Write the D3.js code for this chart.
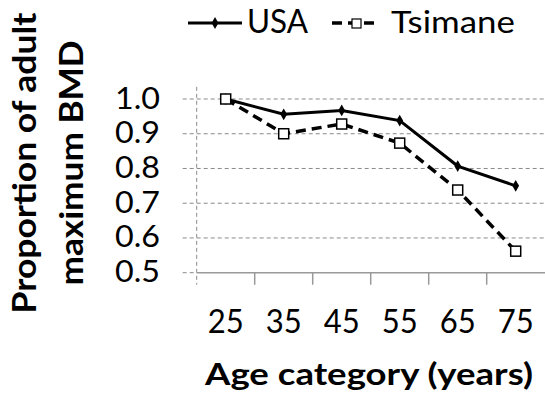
<!DOCTYPE html>
<html lang="en">
<head>
    <meta charset="UTF-8">
    <title>BMD by age</title>
    <script src="https://d3js.org/d3.v7.min.js"></script>
    <style>
        body { margin: 0; background: #fff; }
        text { font-family: Lato, "Open Sans", sans-serif; fill: #000; }
    </style>
</head>
<body>
    <div id="chart"></div>

    <script>
        // data
        const ages = ["25", "35", "45", "55", "65", "75"];
        const usa = [1.0, 0.956, 0.967, 0.938, 0.807, 0.75];
        const tsimane = [1.0, 0.9, 0.928, 0.873, 0.738, 0.562];
        const yTicks = [0.5, 0.6, 0.7, 0.8, 0.9, 1.0];

        const width = 545;
        const height = 401;
        const margin = { top: 99, right: 0.3, bottom: 128.3, left: 196.7 };

        const svg = d3.select("#chart")
            .append("svg")
            .attr("width", width)
            .attr("height", height);

        const x = d3.scaleBand()
            .domain(ages)
            .range([margin.left, width - margin.right])
            .padding(0);

        const y = d3.scaleLinear()
            .domain([0.5, 1.0])
            .range([height - margin.bottom, margin.top]);

        const cx = d => x(d) + x.bandwidth() / 2;

        // horizontal gridlines (dashed), reaching left past the axis like ticks
        svg.append("g")
            .selectAll("line")
            .data(yTicks.filter(d => d > 0.5))
            .join("line")
            .attr("x1", margin.left - 14)
            .attr("x2", width)
            .attr("y1", d => y(d))
            .attr("y2", d => y(d))
            .attr("stroke", "#8a8a8a")
            .attr("stroke-width", 1)
            .attr("stroke-dasharray", "4,3");

        // y axis: dashed gray
        svg.append("line")
            .attr("x1", margin.left).attr("x2", margin.left)
            .attr("y1", y(1.035)).attr("y2", y(0.5) + 12)
            .attr("stroke", "#8a8a8a")
            .attr("stroke-width", 1)
            .attr("stroke-dasharray", "4,3");
        svg.append("line")
            .attr("x1", margin.left - 14).attr("x2", margin.left)
            .attr("y1", y(0.5)).attr("y2", y(0.5))
            .attr("stroke", "#8a8a8a")
            .attr("stroke-dasharray", "4,3");

        // y tick labels
        svg.append("g")
            .selectAll("text")
            .data(yTicks)
            .join("text")
            .attr("x", 160)
            .attr("y", d => y(d) + 9.5)
            .attr("text-anchor", "end")
            .attr("font-size", 31)
            .attr("textLength", 45)
            .attr("lengthAdjust", "spacingAndGlyphs")
            .text(d => d.toFixed(1));

        // x axis: solid line with ticks between categories
        const xAxis = svg.append("g")
            .attr("transform", `translate(0,${y(0.5)})`)
            .call(d3.axisBottom(x).tickSize(0).tickFormat(""));
        xAxis.select(".domain")
            .attr("d", `M${margin.left},0H${width}`)
            .attr("stroke", "#999")
            .attr("stroke-width", 1.5);
        xAxis.selectAll(".bound")
            .data(ages.slice(1))
            .join("line")
            .attr("class", "bound")
            .attr("x1", d => x(d)).attr("x2", d => x(d))
            .attr("y1", 0).attr("y2", 12)
            .attr("stroke", "#999")
            .attr("stroke-width", 1.5);

        // x tick labels
        svg.append("g")
            .selectAll("text")
            .data(ages)
            .join("text")
            .attr("x", d => cx(d))
            .attr("y", 332.5)
            .attr("text-anchor", "middle")
            .attr("font-size", 32)
            .attr("textLength", 36)
            .attr("lengthAdjust", "spacingAndGlyphs")
            .text(d => d);

        // lines
        const line = d3.line()
            .x((d, i) => cx(ages[i]))
            .y(d => y(d));

        svg.append("path")
            .datum(usa)
            .attr("fill", "none")
            .attr("stroke", "#000")
            .attr("stroke-width", 3)
            .attr("d", line);

        svg.append("path")
            .datum(tsimane)
            .attr("fill", "none")
            .attr("stroke", "#000")
            .attr("stroke-width", 3.5)
            .attr("stroke-dasharray", "10,6")
            .attr("d", line);

        const diamond = d3.symbol().type(d3.symbolDiamond).size(40);

        svg.append("g")
            .selectAll("path")
            .data(usa)
            .join("path")
            .attr("transform", (d, i) => `translate(${cx(ages[i])},${y(d)})`)
            .attr("d", diamond)
            .attr("fill", "#000");

        svg.append("g")
            .selectAll("rect")
            .data(tsimane)
            .join("rect")
            .attr("x", (d, i) => cx(ages[i]) - 5)
            .attr("y", d => y(d) - 5)
            .attr("width", 10)
            .attr("height", 10)
            .attr("fill", "#fff")
            .attr("stroke", "#000")
            .attr("stroke-width", 1.5);

        // legend
        const lg = svg.append("g");
        lg.append("line")
            .attr("x1", 188).attr("x2", 242).attr("y1", 23).attr("y2", 23)
            .attr("stroke", "#000").attr("stroke-width", 3);
        lg.append("path")
            .attr("transform", "translate(215,23)")
            .attr("d", diamond)
            .attr("fill", "#000");
        lg.append("text")
            .attr("x", 247).attr("y", 33)
            .attr("font-size", 32)
            .attr("textLength", 61)
            .attr("lengthAdjust", "spacingAndGlyphs")
            .text("USA");
        lg.append("line")
            .attr("x1", 332).attr("x2", 380).attr("y1", 23).attr("y2", 23)
            .attr("stroke", "#000").attr("stroke-width", 3.5)
            .attr("stroke-dasharray", "10,6");
        lg.append("rect")
            .attr("x", 352).attr("y", 19).attr("width", 9).attr("height", 9)
            .attr("fill", "#fff").attr("stroke", "#000").attr("stroke-width", 1.2);
        lg.append("text")
            .attr("x", 391).attr("y", 33)
            .attr("font-size", 31)
            .attr("textLength", 124)
            .attr("lengthAdjust", "spacingAndGlyphs")
            .text("Tsimane");

        // axis titles
        svg.append("text")
            .attr("x", 369).attr("y", 385)
            .attr("text-anchor", "middle")
            .attr("font-size", 31)
            .attr("font-weight", "bold")
            .attr("textLength", 328)
            .attr("lengthAdjust", "spacingAndGlyphs")
            .text("Age category (years)");

        const yt = svg.append("text")
            .attr("transform", "translate(36,163) rotate(-90)")
            .attr("text-anchor", "middle")
            .attr("font-size", 32)
            .attr("font-weight", "bold");
        yt.append("tspan").attr("x", 0).attr("y", 0)
            .attr("textLength", 301).attr("lengthAdjust", "spacingAndGlyphs")
            .text("Proportion of adult");
        yt.append("tspan").attr("x", 0).attr("y", 47)
            .attr("textLength", 245).attr("lengthAdjust", "spacingAndGlyphs")
            .text("maximum BMD");
    </script>
</body>
</html>
